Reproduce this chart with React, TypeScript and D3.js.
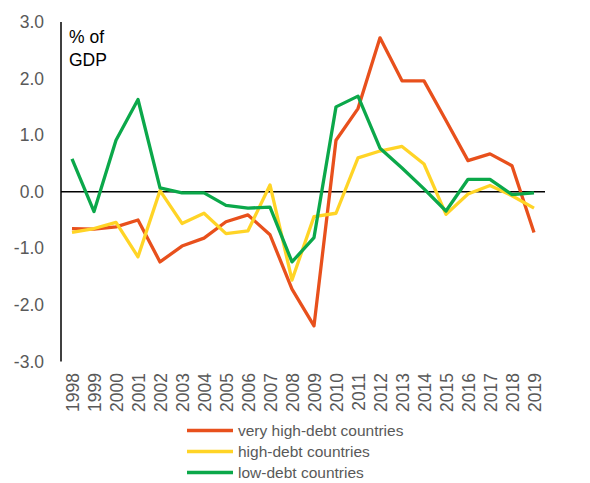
import React from "react";
import * as d3 from "d3";

const years = [
  "1998", "1999", "2000", "2001", "2002", "2003", "2004", "2005", "2006", "2007", "2008",
  "2009", "2010", "2011", "2012", "2013", "2014", "2015", "2016", "2017", "2018", "2019",
];

const veryHighDebt = [
  -0.65, -0.66, -0.62, -0.5, -1.24, -0.96, -0.82, -0.53, -0.41, -0.76, -1.72,
  -2.37, 0.91, 1.47, 2.72, 1.96, 1.96, 1.26, 0.55, 0.67, 0.46, -0.72,
];
const highDebt = [
  -0.72, -0.65, -0.54, -1.15, 0.02, -0.56, -0.38, -0.74, -0.69, 0.12, -1.56,
  -0.44, -0.38, 0.6, 0.72, 0.8, 0.49, -0.4, -0.04, 0.11, -0.07, -0.29,
];
const lowDebt = [
  0.58, -0.35, 0.91, 1.63, 0.07, -0.02, -0.02, -0.24, -0.29, -0.27, -1.24,
  -0.81, 1.5, 1.69, 0.77, 0.42, 0.05, -0.34, 0.22, 0.22, -0.05, -0.02,
];

const yTicks = [3, 2, 1, 0, -1, -2, -3];

const seriesNames = ["very high-debt countries", "high-debt countries", "low-debt countries"];
const seriesColors = ["#E8501C", "#FFD426", "#0BA84A"];

const App: React.FC = () => {
  const width = 590;
  const height = 483;
  const left = 61;
  const right = 545;
  const top = 22;
  const bottom = 361.5;

  const x = d3.scalePoint<string>().domain(years).range([left, right]).padding(0.5);
  const y = d3.scaleLinear().domain([-3, 3]).range([bottom, top]);

  const line = d3
    .line<number>()
    .x((_, i) => x(years[i]) ?? 0)
    .y((d) => y(d));

  const series = [veryHighDebt, highDebt, lowDebt];
  const grey = "#595959";
  const font = "'Liberation Sans', Arial, sans-serif";

  return (
    <svg
      width={width}
      height={height}
      style={{ position: "absolute", left: 0, top: 0, background: "#fff" }}
      fontFamily={font}
    >
      {/* y tick labels, hyphen minus as in the original */}
      {yTicks.map((t) => (
        <text key={t} x={44} y={y(t)} dy="0.35em" textAnchor="end" fontSize={17.5} fill={grey}>
          {t.toFixed(1)}
        </text>
      ))}

      {/* axes */}
      <line x1={left} x2={left} y1={top} y2={bottom} stroke="#000" strokeWidth={1.5} />
      <line x1={left} x2={right} y1={y(0)} y2={y(0)} stroke="#000" strokeWidth={1.5} />

      <text x={69} y={43} fontSize={17.5} fill="#000">% of</text>
      <text x={69} y={66} fontSize={17.5} fill="#000">GDP</text>

      {/* year labels */}
      {years.map((yr) => (
        <text
          key={yr}
          transform={`translate(${(x(yr) ?? 0) + 6.5},373) rotate(-90)`}
          textAnchor="end"
          fontSize={17.5}
          fill={grey}
        >
          {yr}
        </text>
      ))}

      {/* series */}
      {series.map((s, i) => (
        <path
          key={seriesNames[i]}
          d={line(s) ?? ""}
          fill="none"
          stroke={seriesColors[i]}
          strokeWidth={3.3}
          strokeLinejoin="round"
        />
      ))}

      {/* legend */}
      {seriesNames.map((name, i) => (
        <g key={name} transform={`translate(0,${430.5 + i * 21})`}>
          <line x1={187} x2={233} y1={0} y2={0} stroke={seriesColors[i]} strokeWidth={3.3} />
          <text x={238} y={0} dy="0.35em" fontSize={15.5} fill={grey}>
            {name}
          </text>
        </g>
      ))}
    </svg>
  );
};

export default App;
